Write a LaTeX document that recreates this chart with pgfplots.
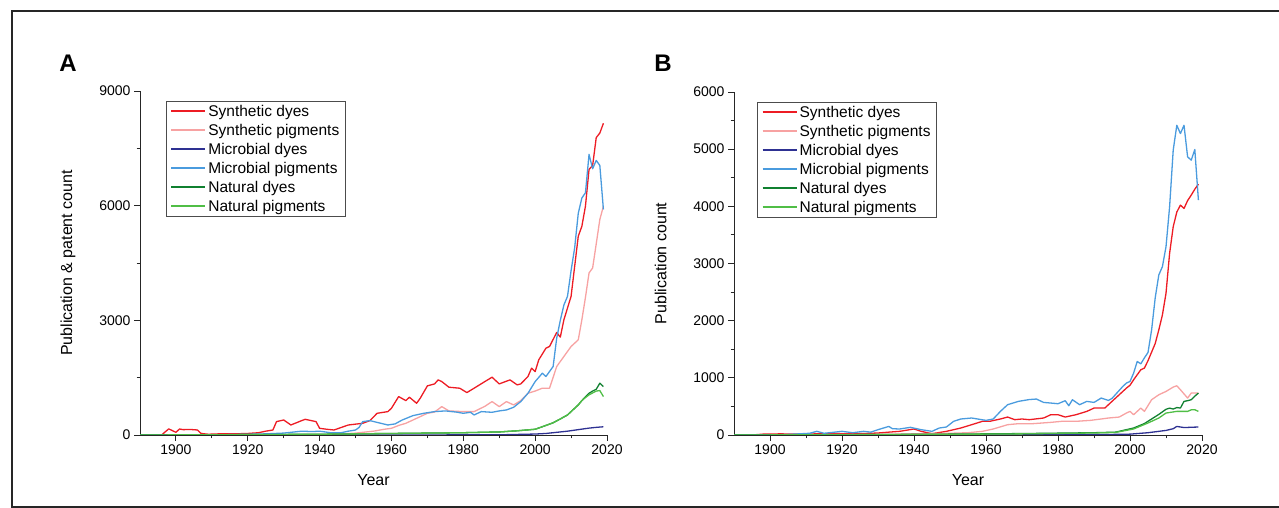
\documentclass[border=0pt]{standalone}
\usepackage{pgfplots}
\pgfplotsset{compat=1.18}
\usepackage{fontspec}
\setmainfont{Liberation Sans}

\definecolor{synred}{RGB}{237,28,36}
\definecolor{synpink}{RGB}{247,162,162}
\definecolor{micdark}{RGB}{46,49,146}
\definecolor{micblue}{RGB}{74,155,222}
\definecolor{natdark}{RGB}{16,128,48}
\definecolor{natgreen}{RGB}{80,190,70}

\pgfplotsset{
  panel/.style={
    scale only axis,
    axis lines=left,
    axis line style={-, line width=0.9pt, black!85},
    enlargelimits=false,
    xmin=1890, xmax=2020,
    xtick={1900,1920,...,2020},
    minor xtick={1910,1930,...,2010},
    tick align=outside,
    major tick length=6pt,
    minor tick length=3.5pt,
    every tick/.style={line width=0.9pt, black!85},
    tick label style={font=\fontsize{14}{15}\selectfont},
    /pgf/number format/assume math mode=true,
    /pgf/number format/1000 sep={},
    label style={font=\fontsize{16}{17}\selectfont},
    xlabel={Year},
    xlabel style={yshift=-13pt},
    legend cell align=left,
    legend style={
      font=\fontsize{15.5}{16}\selectfont,
      draw=black!70,
      inner xsep=4pt, inner ysep=2pt,
      row sep=2.2pt
    },
    legend image code/.code={
      \draw[#1, line width=2pt, line cap=butt] (0pt,0.2pt) -- (34pt,0.2pt);
    },
    every axis plot/.append style={line width=1.3pt, line join=round},
  }
}

\begin{document}
\begin{tikzpicture}[x=1pt,y=1pt]
\useasboundingbox (0,0) rectangle (1279,508);
\draw[line width=1.8pt, black!85] (12,1) rectangle (1300,497);
\node[font=\bfseries\fontsize{24}{24}\selectfont] at (68,445) {A};
\node[font=\bfseries\fontsize{24}{24}\selectfont] at (663,445) {B};

% ---------- A ----------
\begin{axis}[panel,
  at={(140pt,73pt)}, anchor=south west,
  width=467pt, height=344pt,
  ymin=0, ymax=9000,
  ytick={0,3000,6000,9000},
  minor ytick={1500,4500,7500},
  ylabel={Publication \& patent count},
  ylabel style={yshift=17pt},
  legend style={at={(0.056,0.971)}, anchor=north west},
]
\addplot[draw=synred, color=synred] coordinates {
(1890,0)(1896,0)(1898,160)(1900,70)(1901,157)(1902,140)(1904,145)(1906,131)(1907,40)(1909,20)(1912,30)(1915,30)(1918,35)(1920,40)(1923,60)(1925,100)(1927,131)(1928,350)(1930,393)(1932,262)(1935,376)(1936,410)(1939,350)(1940,175)(1942,150)(1944,131)(1948,262)(1952,306)(1954,376)(1956,568)(1959,612)(1960,700)(1962,1005)(1964,900)(1965,988)(1967,830)(1968,961)(1970,1285)(1972,1337)(1973,1442)(1974,1398)(1976,1250)(1979,1224)(1981,1110)(1983,1224)(1986,1398)(1988,1512)(1990,1337)(1993,1442)(1995,1311)(1996,1337)(1998,1530)(1999,1748)(2000,1660)(2001,1966)(2003,2272)(2004,2316)(2006,2683)(2007,2560)(2008,3015)(2010,3627)(2011,4414)(2012,5200)(2013,5460)(2014,5987)(2015,6950)(2016,7050)(2017,7780)(2018,7900)(2019,8155)
};
\addlegendentry{Synthetic dyes}
\addplot[draw=synpink, color=synpink] coordinates {
(1890,0)(1940,10)(1945,20)(1950,50)(1955,100)(1958,150)(1960,175)(1962,250)(1964,306)(1968,480)(1970,568)(1972,600)(1974,743)(1976,630)(1980,612)(1983,612)(1986,750)(1988,874)(1990,743)(1992,874)(1994,787)(1996,900)(1998,1092)(2000,1150)(2002,1224)(2004,1224)(2006,1792)(2008,2054)(2010,2316)(2012,2490)(2013,3015)(2014,3600)(2015,4240)(2016,4370)(2017,5000)(2018,5637)(2019,5987)
};
\addlegendentry{Synthetic pigments}
\addplot[draw=micdark, color=micdark] coordinates {
(1890,0)(1960,0)(1990,5)(1995,15)(2000,25)(2003,40)(2006,70)(2009,100)(2012,140)(2015,180)(2017,200)(2019,215)
};
\addlegendentry{Microbial dyes}
\addplot[draw=micblue, color=micblue] coordinates {
(1890,0)(1910,0)(1915,10)(1920,20)(1925,30)(1930,50)(1933,80)(1935,100)(1938,90)(1940,100)(1943,60)(1946,60)(1948,100)(1950,130)(1951,200)(1952,350)(1954,376)(1956,330)(1959,262)(1961,290)(1963,393)(1966,507)(1969,568)(1972,612)(1975,630)(1978,600)(1980,568)(1982,594)(1983,524)(1985,612)(1988,594)(1990,630)(1992,655)(1994,725)(1996,874)(1998,1092)(2000,1398)(2002,1617)(2003,1530)(2005,1792)(2006,2535)(2007,3000)(2008,3400)(2009,3627)(2010,4300)(2011,4900)(2012,5800)(2013,6200)(2014,6337)(2015,7342)(2016,6966)(2017,7184)(2018,7053)(2019,5900)
};
\addlegendentry{Microbial pigments}
\addplot[draw=natdark, color=natdark] coordinates {
(1890,0)(1920,10)(1940,20)(1960,40)(1980,60)(1990,80)(1995,110)(2000,150)(2003,250)(2005,320)(2007,420)(2009,524)(2011,700)(2012,787)(2013,900)(2014,1000)(2015,1092)(2016,1150)(2017,1197)(2018,1355)(2019,1267)
};
\addlegendentry{Natural dyes}
\addplot[draw=natgreen, color=natgreen] coordinates {
(1890,0)(1920,10)(1940,20)(1960,40)(1980,60)(1990,80)(1995,110)(2000,150)(2003,250)(2005,320)(2007,420)(2009,524)(2011,700)(2012,787)(2013,900)(2014,980)(2015,1050)(2016,1100)(2017,1150)(2018,1162)(2019,1005)
};
\addlegendentry{Natural pigments}
\end{axis}

% ---------- B ----------
\begin{axis}[panel,
  at={(734pt,73pt)}, anchor=south west,
  width=468pt, height=343pt,
  ymin=0, ymax=6000,
  ytick={0,1000,...,6000},
  minor ytick={500,1500,...,5500},
  ylabel={Publication count},
  ylabel style={yshift=20pt},
  legend style={at={(0.05,0.971)}, anchor=north west},
]
\addplot[draw=synred, color=synred] coordinates {
(1890,0)(1895,0)(1898,15)(1903,20)(1908,15)(1913,20)(1918,25)(1923,20)(1928,30)(1930,35)(1933,50)(1936,64)(1940,105)(1942,64)(1945,23)(1949,64)(1953,122)(1956,180)(1959,239)(1961,239)(1964,280)(1966,314)(1968,268)(1970,280)(1972,268)(1976,297)(1978,355)(1980,355)(1982,314)(1985,355)(1988,413)(1990,471)(1993,471)(1995,588)(1997,704)(1999,820)(2000,870)(2001,966)(2003,1141)(2004,1170)(2005,1300)(2006,1450)(2007,1600)(2008,1839)(2009,2100)(2010,2479)(2011,3178)(2012,3643)(2013,3900)(2014,4021)(2015,3963)(2016,4100)(2017,4196)(2018,4300)(2019,4388)
};
\addlegendentry{Synthetic dyes}
\addplot[draw=synpink, color=synpink] coordinates {
(1890,0)(1930,10)(1950,30)(1955,40)(1959,64)(1962,105)(1966,180)(1969,198)(1973,198)(1978,221)(1981,239)(1985,239)(1989,256)(1992,280)(1994,297)(1997,314)(1999,384)(2000,413)(2001,355)(2003,471)(2004,413)(2006,617)(2008,704)(2010,762)(2012,838)(2013,861)(2014,792)(2016,646)(2017,733)(2019,733)
};
\addlegendentry{Synthetic pigments}
\addplot[draw=micdark, color=micdark] coordinates {
(1890,0)(1960,0)(1990,5)(1995,10)(2000,15)(2005,40)(2010,80)(2012,110)(2013,150)(2015,130)(2017,135)(2019,140)
};
\addlegendentry{Microbial dyes}
\addplot[draw=micblue, color=micblue] coordinates {
(1890,0)(1900,0)(1905,10)(1908,20)(1911,30)(1913,64)(1915,30)(1918,50)(1920,64)(1923,40)(1926,64)(1928,50)(1930,93)(1933,150)(1934,110)(1936,105)(1939,134)(1942,93)(1945,64)(1947,122)(1949,140)(1951,239)(1953,280)(1956,297)(1960,256)(1962,280)(1964,413)(1966,530)(1969,588)(1972,620)(1974,629)(1976,570)(1978,559)(1980,547)(1982,600)(1983,512)(1984,617)(1986,530)(1988,588)(1990,570)(1992,646)(1994,605)(1995,640)(1997,780)(1998,850)(1999,908)(2000,937)(2001,1082)(2002,1286)(2003,1245)(2004,1350)(2005,1443)(2006,1839)(2007,2400)(2008,2800)(2009,2945)(2010,3294)(2011,3993)(2012,4982)(2013,5418)(2014,5273)(2015,5418)(2016,4866)(2017,4807)(2018,4994)(2019,4109)
};
\addlegendentry{Microbial pigments}
\addplot[draw=natdark, color=natdark] coordinates {
(1890,0)(1920,5)(1950,15)(1970,25)(1990,40)(1996,50)(2001,122)(2004,200)(2006,280)(2008,360)(2010,450)(2011,470)(2012,454)(2013,480)(2014,471)(2015,588)(2016,600)(2017,617)(2018,680)(2019,733)
};
\addlegendentry{Natural dyes}
\addplot[draw=natgreen, color=natgreen] coordinates {
(1890,0)(1920,5)(1950,12)(1970,20)(1990,35)(1996,45)(2001,105)(2005,210)(2008,297)(2010,384)(2013,413)(2016,413)(2017,440)(2018,442)(2019,413)
};
\addlegendentry{Natural pigments}
\end{axis}
\end{tikzpicture}
\end{document}
